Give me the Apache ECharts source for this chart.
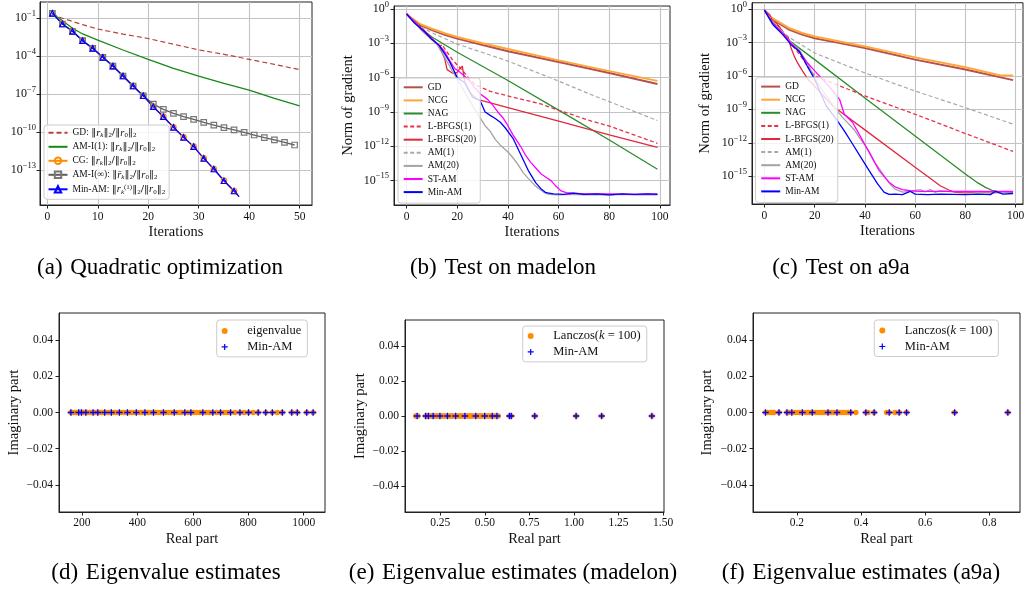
<!DOCTYPE html>
<html><head><meta charset="utf-8">
<script src="https://cdn.jsdelivr.net/npm/echarts@6/dist/echarts.min.js"></script>
<style>html,body{margin:0;padding:0;background:#fff}#c{width:1029px;height:592px}</style>
</head><body><div id="c"></div>
<script>
// ================= DATA (log10 values) =================
// (a) Quadratic optimization
const aTicksX = [0, 10, 20, 30, 40, 50];
const aTicksY = [-13, -10, -7, -4, -1];
const aGdIter = [1, 2, 3, 5, 7, 10, 15, 20, 25, 30, 35, 40, 45, 50];
const aGdLog = [-0.6, -0.85, -1.0, -1.25, -1.5, -1.85, -2.25, -2.6, -3.05, -3.5, -3.85, -4.25, -4.65, -5.07];
const aAm1Iter = [1, 3, 5, 7, 10, 15, 20, 25, 30, 35, 40, 45, 50];
const aAm1Log = [-0.6, -1.19, -1.79, -2.24, -2.72, -3.51, -4.25, -4.96, -5.57, -6.15, -6.68, -7.33, -7.94];
const aCgIter = [1, 3, 5, 7, 9, 11, 13, 15, 17, 19, 21, 23, 25, 27, 29, 31, 33, 35, 37, 38];
const aCgLog = [-0.61, -1.45, -2.03, -2.77, -3.38, -4.09, -4.78, -5.57, -6.36, -7.13, -8.0, -8.79, -9.63, -10.42, -11.16, -12.09, -12.93, -13.86, -14.67, -15.12];
const aAmInfIter = [1, 3, 5, 7, 9, 11, 13, 15, 17, 19, 21, 23, 25, 27, 29, 31, 33, 35, 37, 39, 41, 43, 45, 47, 49];
const aAmInfLog = [-0.61, -1.45, -2.03, -2.77, -3.38, -4.09, -4.78, -5.57, -6.36, -7.13, -7.79, -8.21, -8.52, -8.79, -9.0, -9.24, -9.45, -9.66, -9.84, -10.03, -10.24, -10.45, -10.63, -10.82, -11.03];
const aMinAmIter = [1, 3, 5, 7, 9, 11, 13, 15, 17, 19, 21, 23, 25, 27, 29, 31, 33, 35, 37, 38];
const aMinAmLog = [-0.61, -1.45, -2.03, -2.77, -3.38, -4.09, -4.78, -5.57, -6.36, -7.13, -8.0, -8.79, -9.63, -10.42, -11.16, -12.09, -12.93, -13.86, -14.67, -15.12];

// (b) madelon
const itTicks = [0, 20, 40, 60, 80, 100];
const gradTicks = [-15, -12, -9, -6, -3, 0];
const bGdIter = [0, 2, 5, 10, 15, 20, 30, 40, 60, 80, 99];
const bGdLog = [-0.43, -0.85, -1.36, -1.85, -2.25, -2.59, -3.15, -3.69, -4.63, -5.6, -6.56];
const bNcgIter = [0, 2, 5, 10, 15, 20, 30, 40, 60, 80, 99];
const bNcgLog = [-0.43, -0.8, -1.28, -1.73, -2.12, -2.44, -3.0, -3.5, -4.49, -5.43, -6.28];
const bNagIter = [0, 5, 10, 20, 40, 60, 80, 99];
const bNagLog = [-0.43, -1.6, -2.45, -3.78, -6.25, -8.84, -11.45, -14.0];
const bLb1Iter = [0, 3, 6, 10, 13, 14, 15, 18, 20, 22, 24, 27, 33, 40, 53, 60, 73, 80, 99];
const bLb1Log = [-0.43, -1.1, -1.8, -2.64, -3.3, -3.1, -3.45, -4.4, -4.9, -5.35, -5.9, -6.6, -7.2, -7.6, -8.3, -8.85, -9.8, -10.23, -11.74];
const bLb20Iter = [0, 5, 10, 13, 15, 16, 18, 20, 21, 22, 23, 25, 28, 40, 60, 80, 99];
const bLb20Log = [-0.43, -1.4, -2.6, -3.3, -4.3, -5.3, -5.6, -5.55, -5.2, -5.0, -6.4, -7.3, -7.9, -8.62, -9.81, -11.0, -12.1];
const bAm1Iter = [0, 5, 10, 20, 30, 40, 52, 60, 73, 80, 99];
const bAm1Log = [-0.43, -1.5, -2.07, -3.07, -3.8, -4.55, -5.6, -6.3, -7.5, -8.1, -9.75];
const bAm20Iter = [0, 3, 6, 10, 12, 15, 18, 20, 23, 27, 31, 33, 35, 37, 40, 42, 44, 46, 48, 51, 54, 56, 60, 65, 70, 75, 80, 85, 90, 95, 99];
const bAm20Log = [-0.43, -1.1, -1.9, -2.7, -3.1, -4.2, -5.4, -6.1, -7.3, -8.8, -10.2, -10.7, -11.4, -11.9, -12.5, -13.0, -13.6, -14.3, -14.8, -15.5, -16.0, -16.2, -16.25, -16.2, -16.25, -16.22, -16.27, -16.2, -16.25, -16.22, -16.25];
const bStIter = [0, 3, 6, 10, 13, 15, 17, 19, 21, 23, 25, 27, 29, 32, 34, 36, 38, 40, 42, 45, 47, 49, 51, 53, 55, 57, 59, 61, 63, 66, 70, 80, 90, 99];
const bStLog = [-0.43, -1.1, -1.8, -2.6, -3.2, -3.7, -4.5, -5.2, -5.5, -5.9, -6.3, -6.9, -7.4, -7.9, -8.4, -9.0, -9.5, -10.2, -11.0, -12.0, -12.8, -13.4, -13.9, -14.4, -14.7, -15.0, -15.5, -15.9, -16.05, -16.1, -16.15, -16.15, -16.2, -16.15];
const bMinIter = [0, 3, 7, 10, 13, 15, 17, 20, 23, 26, 29, 31, 33, 35, 37, 39, 42, 45, 48, 51, 53, 55, 58, 62, 66, 70, 75, 80, 85, 90, 95, 99];
const bMinLog = [-0.43, -1.2, -1.95, -2.64, -3.2, -3.9, -4.6, -6.0, -6.45, -7.7, -8.0, -9.0, -9.3, -9.57, -9.9, -10.4, -11.3, -12.7, -14.1, -15.2, -15.7, -16.05, -16.15, -16.2, -16.1, -16.2, -16.15, -16.25, -16.15, -16.2, -16.15, -16.2];

// (c) a9a
const cGdIter = [0, 2, 5, 10, 15, 20, 30, 40, 60, 80, 99];
const cGdLog = [-0.1, -0.7, -1.19, -1.87, -2.3, -2.62, -3.06, -3.5, -4.54, -5.43, -6.38];
const cNcgIter = [0, 2, 5, 10, 15, 20, 30, 40, 60, 80, 94, 99];
const cNcgLog = [-0.1, -0.65, -1.07, -1.73, -2.15, -2.47, -2.92, -3.36, -4.34, -5.23, -5.96, -5.96];
const cNagIter = [0, 3, 7, 10, 20, 40, 60, 70, 80, 85, 88, 91, 94, 99];
const cNagLog = [-0.1, -1.1, -2.1, -2.85, -4.54, -7.98, -11.4, -13.1, -14.8, -15.6, -16.0, -16.3, -16.42, -16.45];
const cLb1Iter = [0, 3, 6, 8, 10, 12, 15, 18, 20, 30, 40, 60, 70, 80, 99];
const cLb1Log = [-0.1, -1.0, -1.6, -2.3, -2.9, -3.5, -4.4, -5.4, -6.0, -6.9, -7.8, -9.44, -10.3, -11.17, -12.77];
const cLb20Iter = [0, 2.2, 3.2, 4.8, 6.8, 8.1, 9.4, 10.6, 11.9, 13.2, 15.2, 17.1, 27.2, 40, 60, 70, 74, 76, 80, 85, 90, 95, 99];
const cLb20Log = [-0.1, -0.53, -1.13, -1.28, -1.87, -2.32, -2.47, -3.5, -4.25, -4.84, -5.58, -6.23, -8.7, -10.84, -14.2, -15.85, -16.3, -16.45, -16.5, -16.45, -16.5, -16.45, -16.5];
const cAm1Iter = [0, 5, 10, 20, 40, 60, 80, 99];
const cAm1Log = [-0.1, -1.6, -2.56, -3.95, -5.73, -7.36, -8.85, -10.33];
const cAm20Iter = [0, 3, 7, 10, 14, 17, 20, 24, 26, 28, 31, 34, 36, 38, 40, 42, 44, 46, 48, 50, 52, 55, 58, 62, 64, 66, 68, 70, 75, 80, 85, 90, 95, 99];
const cAm20Log = [-0.1, -1.3, -2.2, -2.9, -3.7, -4.8, -6.2, -7.6, -8.2, -8.85, -9.7, -10.4, -10.9, -11.6, -12.2, -12.9, -13.8, -14.4, -15.1, -15.7, -16.15, -16.42, -16.35, -16.2, -16.4, -16.2, -16.45, -16.3, -16.4, -16.35, -16.45, -16.4, -16.45, -16.4];
const cStIter = [0, 3, 7, 10, 14, 17, 20, 24, 27, 29.9, 31.8, 35.1, 38.4, 41.7, 45.7, 49.6, 52, 54.9, 58, 62, 70, 80, 90, 99];
const cStLog = [-0.1, -1.2, -2.1, -2.9, -3.9, -4.8, -5.55, -6.5, -7.3, -8.1, -9.44, -10.18, -11.52, -12.86, -14.5, -15.53, -15.95, -16.2, -16.3, -16.35, -16.35, -16.35, -16.35, -16.35];
const cMinIter = [0, 3.5, 7.4, 10.6, 13.9, 17.1, 20, 24.6, 28.6, 31.8, 35.1, 38.4, 41.7, 45, 47.6, 49.6, 52, 55, 58, 60, 65, 70, 75, 80, 85, 90, 92, 95, 99];
const cMinLog = [-0.1, -1.43, -2.32, -3.2, -3.8, -5.14, -6.3, -8.7, -9.88, -10.93, -12.11, -13.3, -14.49, -15.67, -16.42, -16.63, -16.6, -16.65, -16.35, -16.6, -16.65, -16.6, -16.62, -16.65, -16.6, -16.65, -16.35, -16.6, -16.55];

// (d) eigenvalue estimates (real parts; imaginary parts are all 0)
const dTicksX = [200, 400, 600, 800, 1000];
const imTicks = [-0.04, -0.02, 0, 0.02, 0.04];
const dEigen = [160, 163, 168, 172, 178, 183, 188, 193, 198, 204, 209, 214, 220, 227, 233, 240, 246, 252, 257, 263, 270, 276, 282, 289, 296, 302, 306, 313, 320, 328, 335, 342, 350, 357, 364, 372, 380, 388, 396, 404, 412, 420, 427, 435, 442, 450, 458, 466, 476, 485, 494, 503, 512, 523, 533, 542, 552, 561, 571, 582, 593, 603, 614, 625, 636, 648, 660, 672, 686, 700, 712, 724, 736, 752, 770, 785, 801, 818, 836, 863, 887, 905, 923, 957, 977, 1011, 1034];
const dMinAm = [160, 188, 198, 214, 240, 257, 282, 306, 335, 364, 396, 427, 458, 494, 533, 571, 593, 636, 672, 700, 736, 770, 801, 836, 863, 887, 923, 957, 977, 1011, 1034];
// (e) madelon
const eTicksX = [0.25, 0.5, 0.75, 1.0, 1.25, 1.5];
const eLanczos = [0.112, 0.118, 0.124, 0.168, 0.175, 0.183, 0.19, 0.198, 0.207, 0.214, 0.222, 0.231, 0.24, 0.248, 0.257, 0.266, 0.274, 0.283, 0.292, 0.301, 0.31, 0.318, 0.327, 0.336, 0.345, 0.354, 0.363, 0.372, 0.381, 0.39, 0.399, 0.408, 0.417, 0.426, 0.436, 0.445, 0.454, 0.463, 0.472, 0.481, 0.49, 0.5, 0.51, 0.52, 0.53, 0.54, 0.55, 0.56, 0.568, 0.575, 0.638, 0.648, 0.78, 1.012, 1.155, 1.437];
const eMinAm = [0.12, 0.168, 0.183, 0.21, 0.248, 0.29, 0.336, 0.388, 0.449, 0.499, 0.542, 0.568, 0.638, 0.648, 0.78, 1.012, 1.155, 1.437];
// (f) a9a
const fTicksX = [0.2, 0.4, 0.6, 0.8];
const fLanczos = [0.102, 0.108, 0.115, 0.122, 0.128, 0.144, 0.169, 0.175, 0.182, 0.188, 0.195, 0.202, 0.209, 0.217, 0.224, 0.231, 0.238, 0.245, 0.252, 0.259, 0.266, 0.273, 0.28, 0.287, 0.294, 0.301, 0.308, 0.315, 0.322, 0.33, 0.338, 0.346, 0.354, 0.362, 0.368, 0.384, 0.415, 0.422, 0.441, 0.48, 0.488, 0.506, 0.519, 0.542, 0.692, 0.858];
const fMinAm = [0.102, 0.144, 0.169, 0.184, 0.217, 0.248, 0.297, 0.325, 0.368, 0.415, 0.441, 0.488, 0.519, 0.542, 0.692, 0.858];

const captions = ['(a)\u2004Quadratic optimization', '(b)\u2004Test on madelon', '(c)\u2004Test on a9a',
  '(d)\u2004Eigenvalue estimates', '(e)\u2004Eigenvalue estimates (madelon)', '(f)\u2004Eigenvalue estimates (a9a)'];

// ================= CHART =================
const FONT = "'Liberation Serif','Times New Roman',serif";
const MATH = "'DejaVu Serif','Liberation Serif',serif";
const INK = '#111';
const CLEAR = 'rgba(0,0,0,0)';
const zip = (xs, ys) => xs.map((x, i) => [x, ys[i]]);
const zeroIm = xs => xs.map(x => [x, 0]);

const nA = {
  gd: 'GD: \u2016r\u2096\u2016\u2082/\u2016r\u2080\u2016\u2082',
  am1: 'AM-I(1): \u2016r\u2096\u2016\u2082/\u2016r\u2080\u2016\u2082',
  cg: 'CG: \u2016r\u2096\u2016\u2082/\u2016r\u2080\u2016\u2082',
  inf: 'AM-I(\u221e): \u2016r\u0304\u2096\u2016\u2082/\u2016r\u2080\u2016\u2082',
  min: 'Min-AM: \u2016r\u2096\u207d\u00b9\u207e\u2016\u2082/\u2016r\u2080\u2016\u2082'
};
// rich-text typesetting of the legend labels of panel (a)
const ratio = (rbar, sup) => '{n|\u2016}{i|' + (rbar ? 'r\u0304' : 'r') + '}{sb|k}' + (sup ? '{sp|(1)}' : '') +
  '{n|\u2016}{sn|2}{n|/\u2016}{i|r}{sn|0}{n|\u2016}{sn|2}';
const aLegendRich = {};
aLegendRich[nA.gd] = '{t|GD: }' + ratio(false, false);
aLegendRich[nA.am1] = '{t|AM-I(1): }' + ratio(false, false);
aLegendRich[nA.cg] = '{t|CG: }' + ratio(false, false);
aLegendRich[nA.inf] = '{t|AM-I(\u221e): }' + ratio(true, false);
aLegendRich[nA.min] = '{t|Min-AM: }' + ratio(false, true);

const methods = ['GD', 'NCG', 'NAG', 'L-BFGS(1)', 'L-BFGS(20)', 'AM(1)', 'AM(20)', 'ST-AM', 'Min-AM'];
const mStyle = {
  'GD': {color: '#b4514f', width: 2},
  'NCG': {color: '#ffa53a', width: 2},
  'NAG': {color: '#2a8c2a', width: 1.3},
  'L-BFGS(1)': {color: '#e8304a', width: 1.3, type: [4, 2.5]},
  'L-BFGS(20)': {color: '#e0283f', width: 1.3},
  'AM(1)': {color: '#a9a9a9', width: 1.2, type: [4, 2.5]},
  'AM(20)': {color: '#a3a3a3', width: 1.3},
  'ST-AM': {color: '#ff00ff', width: 1.3},
  'Min-AM': {color: '#0000ff', width: 1.3}
};
const scatName = {eig: 'eigenvalue', lan: 'Lanczos(k = 100)', min: 'Min-AM\u200b'};

const grids = [
  {left: 40, top: 2, width: 272, height: 203},
  {left: 394, top: 1, width: 276, height: 204},
  {left: 752, top: 1, width: 271, height: 203},
  {left: 59, top: 313, width: 266, height: 199},
  {left: 405, top: 320, width: 259, height: 192},
  {left: 753, top: 313, width: 267, height: 199}
].map(g => Object.assign({show: true, borderColor: '#222', borderWidth: 1, backgroundColor: 'transparent'}, g));

const tickFont = {fontFamily: FONT, fontSize: 11.5, color: INK};
const nameFont = {fontFamily: FONT, fontSize: 14.5, color: INK};
const gridLine = {show: true, lineStyle: {color: '#c4c4c4', width: 1.1}};
const supRich = {
  b: {fontFamily: FONT, fontSize: 12, color: INK, lineHeight: 18},
  s: {fontFamily: FONT, fontSize: 8.5, color: INK, lineHeight: 8, verticalAlign: 'top'}
};
const supLabel = v => { const e = Math.round(v); return '{b|10}{s|' + (e < 0 ? '\u2212' + (-e) : e) + '}'; };
const signed = d => v => (v < 0 ? '\u2212' : '') + Math.abs(v).toFixed(d);

function xAx(gi, min, max, ticks, fmt, name, grid, margin) {
  return {type: 'value', gridIndex: gi, min, max, name, nameLocation: 'middle', nameGap: 20, nameTextStyle: nameFont,
    axisLine: {show: true, onZero: false, lineStyle: {color: '#222', width: 1}},
    axisTick: {show: true, customValues: ticks, length: 3.5, lineStyle: {color: '#222'}},
    axisLabel: Object.assign({customValues: ticks, margin: margin, formatter: fmt}, tickFont),
    splitLine: grid ? gridLine : {show: false}};
}
function yAx(gi, min, max, ticks, fmt, rich, name, gap, grid, margin) {
  const lab = Object.assign({customValues: ticks, margin: margin, formatter: fmt}, tickFont);
  if (rich) lab.rich = rich;
  return {type: 'value', gridIndex: gi, min, max, name, nameLocation: 'middle', nameGap: gap, nameTextStyle: nameFont,
    axisLine: {show: true, onZero: false, lineStyle: {color: '#222', width: 1}},
    axisTick: {show: true, customValues: ticks, length: 3.5, lineStyle: {color: '#222'}},
    axisLabel: lab, splitLine: grid ? gridLine : {show: false}};
}

const xAxes = [
  xAx(0, -1.45, 52.45, aTicksX, v => String(v), 'Iterations', true, 6),
  xAx(1, -4.95, 103.95, itTicks, v => String(v), 'Iterations', true, 6),
  xAx(2, -4.95, 102.95, itTicks, v => String(v), 'Iterations', true, 6),
  xAx(3, 117, 1077, dTicksX, v => String(v), 'Real part', false, 5),
  xAx(4, 0.052, 1.505, eTicksX, v => v.toFixed(2), 'Real part', false, 5),
  xAx(5, 0.063, 0.896, fTicksX, v => v.toFixed(1), 'Real part', false, 5)
];
const yAxes = [
  yAx(0, -15.78, 0.29, aTicksY, supLabel, supRich, '', 40, true, 4),
  yAx(1, -17.13, 0.26, gradTicks, supLabel, supRich, 'Norm of gradient', 38, true, 5),
  yAx(2, -17.49, 0.56, gradTicks, supLabel, supRich, 'Norm of gradient', 39, true, 5),
  yAx(3, -0.055, 0.055, imTicks, signed(2), null, 'Imaginary part', 37, false, 6),
  yAx(4, -0.055, 0.055, imTicks, signed(2), null, 'Imaginary part', 37, false, 6),
  yAx(5, -0.055, 0.055, imTicks, signed(2), null, 'Imaginary part', 38, false, 6)
];

// plain lines: symbols hidden on the line and made transparent in the legend
function lineS(name, gi, xs, ys, st) {
  return {type: 'line', name, xAxisIndex: gi, yAxisIndex: gi, data: zip(xs, ys), symbol: 'circle', showSymbol: false,
    animation: false, silent: true,
    lineStyle: {color: st.color, width: st.width, type: st.type || 'solid'},
    itemStyle: {color: CLEAR, borderColor: CLEAR, borderWidth: 0}};
}
function markedS(name, xs, ys, color, markColor, sym) {
  const d = zip(xs, ys).map((p, i) => (xs[i] % 2 === 0 ? {value: p, symbol: 'none'} : p));
  return {type: 'line', name, xAxisIndex: 0, yAxisIndex: 0, data: d, symbol: sym, symbolSize: 5.5, animation: false, silent: true,
    lineStyle: {color, width: 1.3}, itemStyle: {color: CLEAR, borderColor: markColor, borderWidth: 1.2}};
}

const series = [
  lineS(nA.gd, 0, aGdIter, aGdLog, {color: '#b8413f', width: 1.2, type: [5, 3]}),
  lineS(nA.am1, 0, aAm1Iter, aAm1Log, {color: '#158a15', width: 1.3}),
  markedS(nA.cg, aCgIter, aCgLog, '#ff8c00', '#ff8c00', 'circle'),
  markedS(nA.inf, aAmInfIter, aAmInfLog, '#5e5e5e', '#777777', 'rect'),
  markedS(nA.min, aMinAmIter, aMinAmLog, '#0000ff', '#0000ff', 'triangle')
];
const bSets = [[bGdIter, bGdLog], [bNcgIter, bNcgLog], [bNagIter, bNagLog], [bLb1Iter, bLb1Log], [bLb20Iter, bLb20Log],
  [bAm1Iter, bAm1Log], [bAm20Iter, bAm20Log], [bStIter, bStLog], [bMinIter, bMinLog]];
const cSets = [[cGdIter, cGdLog], [cNcgIter, cNcgLog], [cNagIter, cNagLog], [cLb1Iter, cLb1Log], [cLb20Iter, cLb20Log],
  [cAm1Iter, cAm1Log], [cAm20Iter, cAm20Log], [cStIter, cStLog], [cMinIter, cMinLog]];
methods.forEach((m, i) => series.push(lineS(m, 1, bSets[i][0], bSets[i][1], mStyle[m])));
methods.forEach((m, i) => series.push(lineS(m, 2, cSets[i][0], cSets[i][1], mStyle[m])));

const PLUS = 'path://M4,0h2v4h4v2h-4v4h-2v-4h-4v-2h4z';
function scat(name, gi, xs, kind) {
  const isPlus = kind === 'plus';
  return {type: 'scatter', name, xAxisIndex: gi, yAxisIndex: gi, data: zeroIm(xs), animation: false, silent: true,
    symbol: isPlus ? PLUS : 'circle', symbolSize: isPlus ? 6.5 : 5.5,
    itemStyle: {color: isPlus ? '#0000ff' : '#ff8c00', opacity: 1}};
}
series.push(scat(scatName.eig, 3, dEigen, 'dot'), scat(scatName.min, 3, dMinAm, 'plus'));
series.push(scat(scatName.lan, 4, eLanczos, 'dot'), scat(scatName.min, 4, eMinAm, 'plus'));
series.push(scat(scatName.lan, 5, fLanczos, 'dot'), scat(scatName.min, 5, fMinAm, 'plus'));

const legBase = {orient: 'vertical', selectedMode: false, backgroundColor: 'rgba(255,255,255,0.8)',
  borderColor: '#cccccc', borderWidth: 1, borderRadius: 3};
const rt = (size, extra, fam) => Object.assign({fontFamily: fam || FONT, fontSize: size, color: INK}, extra || {});
const legendA = Object.assign({}, legBase, {left: 44, top: 125, data: Object.values(nA), itemWidth: 19, itemHeight: 8, itemGap: 2.5,
  padding: [2.3, 4, 4, 3.5],
  formatter: n => aLegendRich[n],
  textStyle: {fontFamily: FONT, fontSize: 9.5, color: INK, rich: {
    t: rt(9.5, {lineHeight: 12}),
    n: rt(10, {lineHeight: 12}, MATH),
    i: rt(10.5, {fontStyle: 'italic', lineHeight: 12}),
    sb: rt(7, {fontStyle: 'italic', lineHeight: 7, verticalAlign: 'bottom'}),
    sn: rt(7, {lineHeight: 7, verticalAlign: 'bottom'}),
    sp: rt(7, {lineHeight: 7, verticalAlign: 'top'})}}});
const legMeth = (left, top) => Object.assign({}, legBase, {left, top, data: methods, itemWidth: 19, itemHeight: 10, itemGap: 3.1,
  padding: [4.3, 4, 6, 4.7], textStyle: {fontFamily: FONT, fontSize: 9.5, color: INK, lineHeight: 10}});
const lanFmt = n => n.indexOf('Lanczos') === 0 ? '{t|Lanczos(}{i|k}{t| = 100)}' : '{t|' + n + '}';
const legScat = (left, top, names, padTop) => Object.assign({}, legBase, {left, top, data: names, itemWidth: 25, itemHeight: 6, itemGap: 3,
  padding: [padTop, 6, 3.5, 5], formatter: lanFmt,
  textStyle: {fontFamily: FONT, fontSize: 12.5, color: INK, padding: [0, 0, 0, 5], rich: {
    t: rt(12.5, {lineHeight: 14.6}),
    i: rt(12.5, {fontStyle: 'italic', lineHeight: 14.6})}}});

const legends = [
  legendA,
  legMeth(398, 78),
  legMeth(755.5, 77.3),
  legScat(216.7, 320, [scatName.eig, scatName.min], 4.4),
  legScat(522.7, 326, [scatName.lan, scatName.min], 3.4),
  legScat(874.3, 320, [scatName.lan, scatName.min], 4)
];

const capPos = [[160, 268], [503, 268], [841, 268], [166, 573], [513, 573], [861, 573]];
const graphic = captions.map((t, i) => ({type: 'text', x: capPos[i][0], y: capPos[i][1], silent: true,
  style: {text: t, font: '23px ' + FONT, fill: '#000', align: 'center', verticalAlign: 'middle', textAlign: 'center', textVerticalAlign: 'middle'}}));

const chart = echarts.init(document.getElementById('c'), null, {renderer: 'canvas'});
chart.setOption({
  backgroundColor: '#fff', animation: false,
  grid: grids, xAxis: xAxes, yAxis: yAxes, series, legend: legends, graphic
});
</script></body></html>
